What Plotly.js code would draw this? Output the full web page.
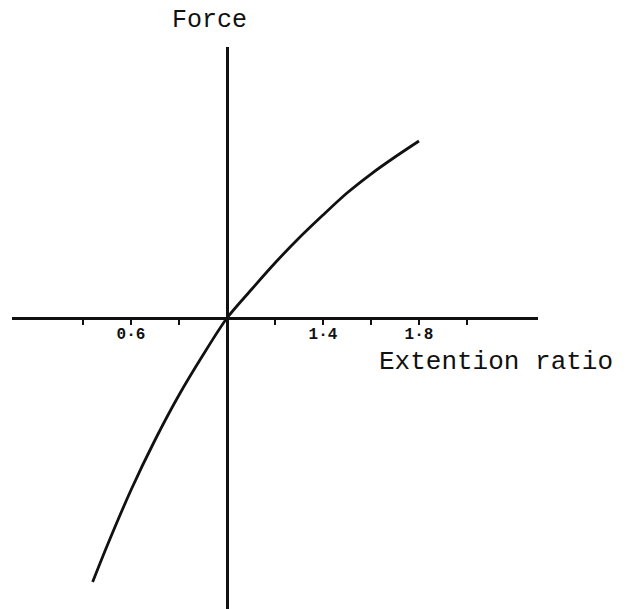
<!DOCTYPE html>
<html>
<head>
<meta charset="utf-8">
<script src="https://cdn.plot.ly/plotly-3.0.1.min.js"></script>
<style>
  html, body { margin: 0; padding: 0; background: #ffffff; }
  #chart { width: 627px; height: 609px; }
</style>
</head>
<body>
<div id="chart"></div>
<script>
// Force against extension ratio, origin at ratio 1 (zero force)
const extensionRatio = [0.44, 0.50, 0.60, 0.70, 0.80, 0.90, 1.00, 1.10, 1.20, 1.30, 1.40, 1.50, 1.60, 1.70, 1.80];
const force          = [-2.64, -2.28, -1.72, -1.22, -0.77, -0.37, 0.00, 0.28, 0.55, 0.80, 1.03, 1.25, 1.44, 1.61, 1.77];

// Tick marks every 0.2, only a few of them labelled
const tickValues = [0.4, 0.6, 0.8, 1.0, 1.2, 1.4, 1.6, 1.8, 2.0];
const tickLabels = ["", "0·6", "", "", "", "1·4", "", "1·8", ""];

const xRange = [0.104, 2.296];
const yRange = [-2.91, 2.71];
const yDomain = [0, 0.9228];
const xDomain = [12 / 627, 538 / 627];

// Place each axis line where the other variable is at its origin
const xAxisPos = yDomain[0] + (yDomain[1] - yDomain[0]) * (0 - yRange[0]) / (yRange[1] - yRange[0]);
const yAxisPos = xDomain[0] + (xDomain[1] - xDomain[0]) * (1 - xRange[0]) / (xRange[1] - xRange[0]);

const typeFont = "Liberation Mono, Courier New, monospace";

const trace = {
  x: extensionRatio,
  y: force,
  type: "scatter",
  mode: "lines",
  line: { color: "#111111", width: 2.8, shape: "spline", smoothing: 0.8 },
  hoverinfo: "skip"
};

const layout = {
  width: 627,
  height: 609,
  margin: { l: 0, r: 0, t: 0, b: 0 },
  paper_bgcolor: "#ffffff",
  plot_bgcolor: "#ffffff",
  showlegend: false,
  xaxis: {
    domain: xDomain,
    range: xRange,
    anchor: "free",
    position: xAxisPos,
    showline: true,
    linecolor: "#111111",
    linewidth: 3,
    ticks: "outside",
    ticklen: 5,
    tickwidth: 2,
    tickcolor: "#111111",
    tickvals: tickValues,
    ticktext: tickLabels,
    ticklabelstandoff: -5,
    tickfont: { family: typeFont, size: 16, color: "#111111", weight: "bold" },
    showgrid: false,
    zeroline: false,
    fixedrange: true
  },
  yaxis: {
    domain: yDomain,
    range: yRange,
    anchor: "free",
    position: yAxisPos,
    showline: true,
    linecolor: "#111111",
    linewidth: 2.5,
    ticks: "",
    showticklabels: false,
    showgrid: false,
    zeroline: false,
    fixedrange: true
  },
  annotations: [
    {
      text: "Force",
      xref: "paper", yref: "paper",
      x: 209 / 627, y: 1 - 21 / 609,
      xanchor: "center", yanchor: "middle",
      showarrow: false,
      font: { family: typeFont, size: 25, color: "#111111" }
    },
    {
      text: "Extention ratio",
      xref: "paper", yref: "paper",
      x: 377 / 627, y: 1 - 362 / 609,
      xanchor: "left", yanchor: "middle",
      showarrow: false,
      font: { family: typeFont, size: 26, color: "#111111" }
    }
  ]
};

Plotly.newPlot("chart", [trace], layout, { displayModeBar: false, staticPlot: true });
</script>
</body>
</html>
